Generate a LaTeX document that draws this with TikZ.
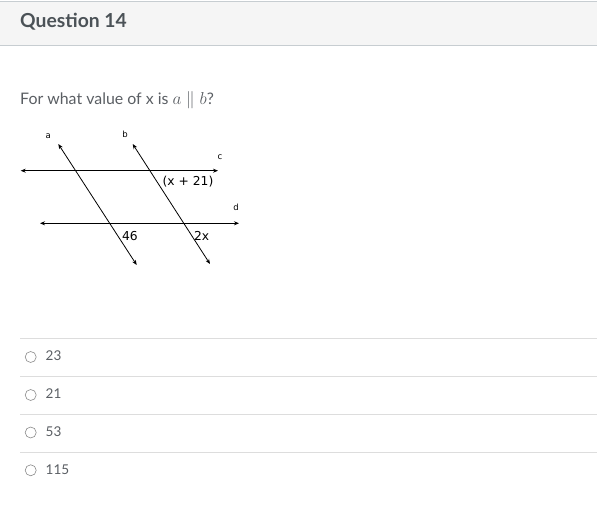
\documentclass[tikz,border=0pt]{standalone}
\usepackage{fontspec}
\setmainfont{Lato}
\newfontfamily\diagfont{DejaVu Sans}
\usetikzlibrary{arrows.meta}
\definecolor{hdrfill}{HTML}{F5F5F5}
\definecolor{hdrline}{HTML}{C7CDD1}
\definecolor{hdrtext}{HTML}{4B5257}
\definecolor{bodytext}{HTML}{5A5E63}
\definecolor{sepline}{HTML}{DDDDDD}
\definecolor{radio}{HTML}{8A8A8A}
\tikzset{
  x=1pt, y=-1pt,
  geoline/.style={line width=0.8pt, {Stealth[length=5pt,width=4pt]}-{Stealth[length=5pt,width=4pt]}},
  smlabel/.style={font=\diagfont\fontsize{8.5}{10}\selectfont, inner sep=0pt},
  anglabel/.style={font=\diagfont\fontsize{12.3}{14}\selectfont, inner sep=0pt},
  option/.style={font=\fontsize{13.5}{16}\selectfont, text=bodytext, anchor=west, inner sep=0pt},
  radiobtn/.style={circle, draw=radio, line width=0.6pt, minimum size=11pt, inner sep=0pt},
  sep/.style={draw=sepline, line width=0.8pt}
}
\begin{document}
\begin{tikzpicture}
\useasboundingbox (0,0) rectangle (597,510);
% header
\fill[hdrfill] (0,1.5) rectangle (597,46);
\draw[hdrline, line width=1pt] (0,1.5) -- (597,1.5);
\draw[hdrline, line width=1pt] (0,46) -- (597,46);
\node[anchor=west, inner sep=0pt, text=hdrtext, font=\bfseries\fontsize{19.3}{22}\selectfont] (title) at (20,22) {Question 14};
% question
\node[anchor=west, inner sep=0pt, text=bodytext, font=\fontsize{15.9}{19}\selectfont] (q) at (20,100) {For what value of x is $a\parallel b$?};
% diagram
\coordinate (cL) at (20.7,170.7); \coordinate (cR) at (218,170.7);
\coordinate (dL) at (40,223.3); \coordinate (dR) at (239,223.3);
\coordinate (aT) at (58.3,144); \coordinate (aB) at (136.7,265);
\coordinate (bT) at (132.7,144); \coordinate (bB) at (210,264);
\draw[geoline] (cL) -- (cR);
\draw[geoline] (dL) -- (dR);
\draw[geoline] (aT) -- (aB);
\draw[geoline] (bT) -- (bB);
\node[smlabel] (la) at (48.3,136) {a};
\node[smlabel] (lb) at (125,134) {b};
\node[smlabel] (lc) at (220,157) {c};
\node[smlabel] (ld) at (236,207) {d};
\node[anglabel] (xp) at (188,182) {(x + 21)};
\node[anglabel] (l46) at (130,236.5) {46};
\node[anglabel] (l2x) at (201.7,235.5) {2x};
% options
\draw[sep] (20,338.5) -- (597,338.5);
\draw[sep] (20,376.7) -- (597,376.7);
\draw[sep] (20,414.5) -- (597,414.5);
\draw[sep] (20,452.3) -- (597,452.3);
\node[radiobtn] (r1) at (30.7,357) {};
\node[radiobtn] (r2) at (30.7,395) {};
\node[radiobtn] (r3) at (30.7,432.5) {};
\node[radiobtn] (r4) at (30.7,470.3) {};
\node[option] (o1) at (45.5,356) {23};
\node[option] (o2) at (45.5,394) {21};
\node[option] (o3) at (45.5,431.5) {53};
\node[option] (o4) at (45.5,469.3) {115};
\end{tikzpicture}
\end{document}
